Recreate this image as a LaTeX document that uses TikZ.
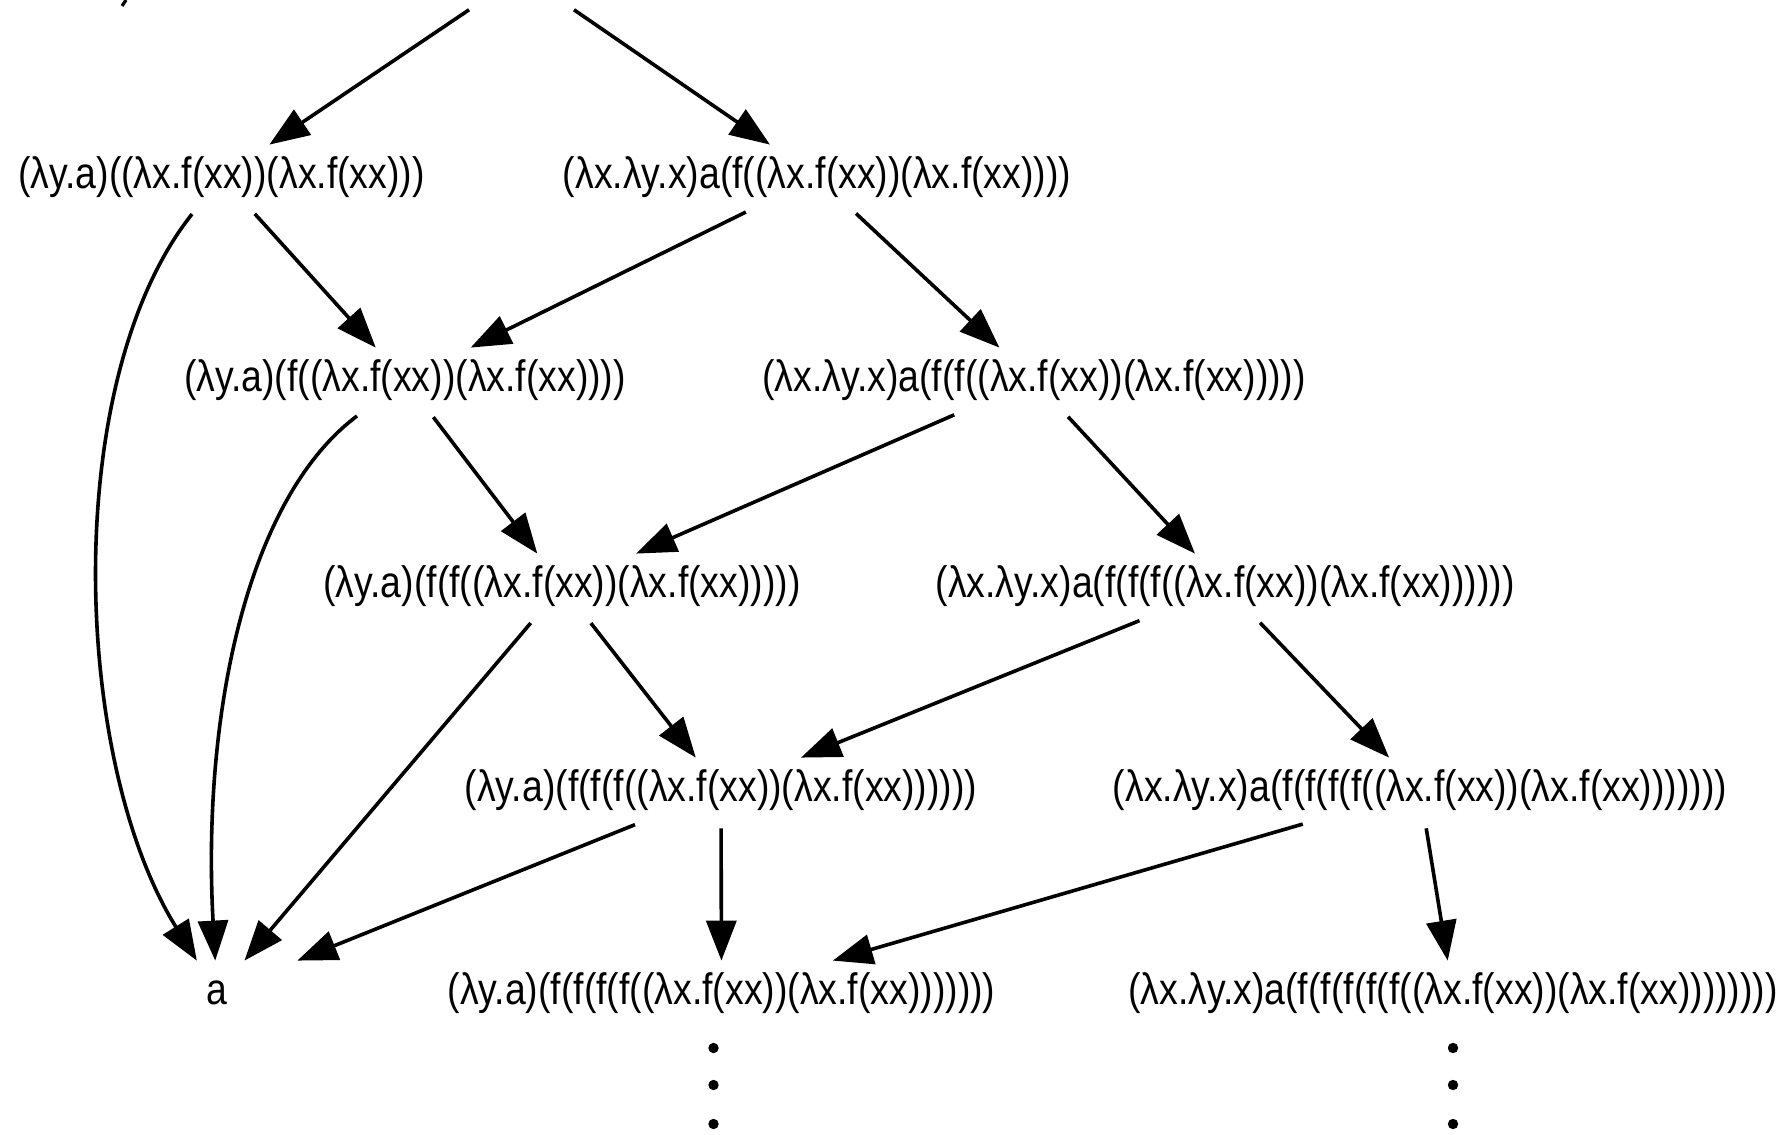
\documentclass[tikz,border=0pt]{standalone}
\usepackage{fontspec}
\newfontfamily\lblfont[FakeStretch=0.85]{Liberation Sans}
\usetikzlibrary{arrows.meta,calc}
\begin{document}
\begin{tikzpicture}[x=0.5pt,y=-0.5pt,
  term/.style={font=\lblfont\fontsize{22}{26}\selectfont, inner sep=0pt, minimum height=32pt},
  edge/.style={-{Triangle[length=20pt,width=15pt]}, line width=1.8pt, shorten <=3pt},
  vdot/.style={fill=black}]
\useasboundingbox (0,0) rectangle (1790,1135);
\clip (0,0) rectangle (1790,1135);
\fill[white] (0,0) rectangle (1790,1135);
% cut-off root
\node[term, minimum width=60pt] (root) at (522,-26) {};
% left column
\node[term] (L1) at (221.5,177) {(λy.a)((λx.f(xx))(λx.f(xx)))};
\node[term] (L2) at (405,380) {(λy.a)(f((λx.f(xx))(λx.f(xx))))};
\node[term] (L3) at (562,586) {(λy.a)(f(f((λx.f(xx))(λx.f(xx)))))};
\node[term] (L4) at (721,790) {(λy.a)(f(f(f((λx.f(xx))(λx.f(xx))))))};
\node[term] (L5) at (721.5,993) {(λy.a)(f(f(f(f((λx.f(xx))(λx.f(xx)))))))};
% right column
\node[term] (R1) at (817,177) {(λx.λy.x)a(f((λx.f(xx))(λx.f(xx))))};
\node[term] (R2) at (1034,380) {(λx.λy.x)a(f(f((λx.f(xx))(λx.f(xx)))))};
\node[term] (R3) at (1225,586) {(λx.λy.x)a(f(f(f((λx.f(xx))(λx.f(xx))))))};
\node[term] (R4) at (1420,790) {(λx.λy.x)a(f(f(f(f((λx.f(xx))(λx.f(xx)))))))};
\node[term] (R5) at (1453,993) {(λx.λy.x)a(f(f(f(f(f((λx.f(xx))(λx.f(xx))))))))};
% normal form
\node[term, minimum width=100pt] (A) at (217,993) {a};
% edges
\draw[edge] (root) -- (L1);
\draw[edge] (root) -- (R1);
\draw[edge] (L1) -- (L2);
\draw[edge] (R1) -- (L2);
\draw[edge] (R1) -- (R2);
\draw[edge] (L2) -- (L3);
\draw[edge] (R2) -- (L3);
\draw[edge] (R2) -- (R3);
\draw[edge] (L3) -- (L4);
\draw[edge] (R3) -- (L4);
\draw[edge] (R3) -- (R4);
\draw[edge] (L4) -- (L5);
\draw[edge] (R4) -- (L5);
\draw[edge] (R4) -- (R5);
\draw[edge] (L1) .. controls (60,380) and (72,760) .. (A);
\draw[edge] (L2) .. controls (245,500) and (202,720) .. (A);
\draw[edge] (L3) -- (A);
\draw[edge] (L4) -- (A);
% continuation dots
\foreach \n/\dx in {L5/-8,R5/0}{
  \foreach \dy in {55,92,131}{
    \fill[vdot] ($(\n)+(\dx,\dy)$) circle[radius=2.6pt];
  }
}
% fragment of cut-off text at the top
\draw[line width=1.6pt] (126,0) -- (122,6);
\end{tikzpicture}
\end{document}
